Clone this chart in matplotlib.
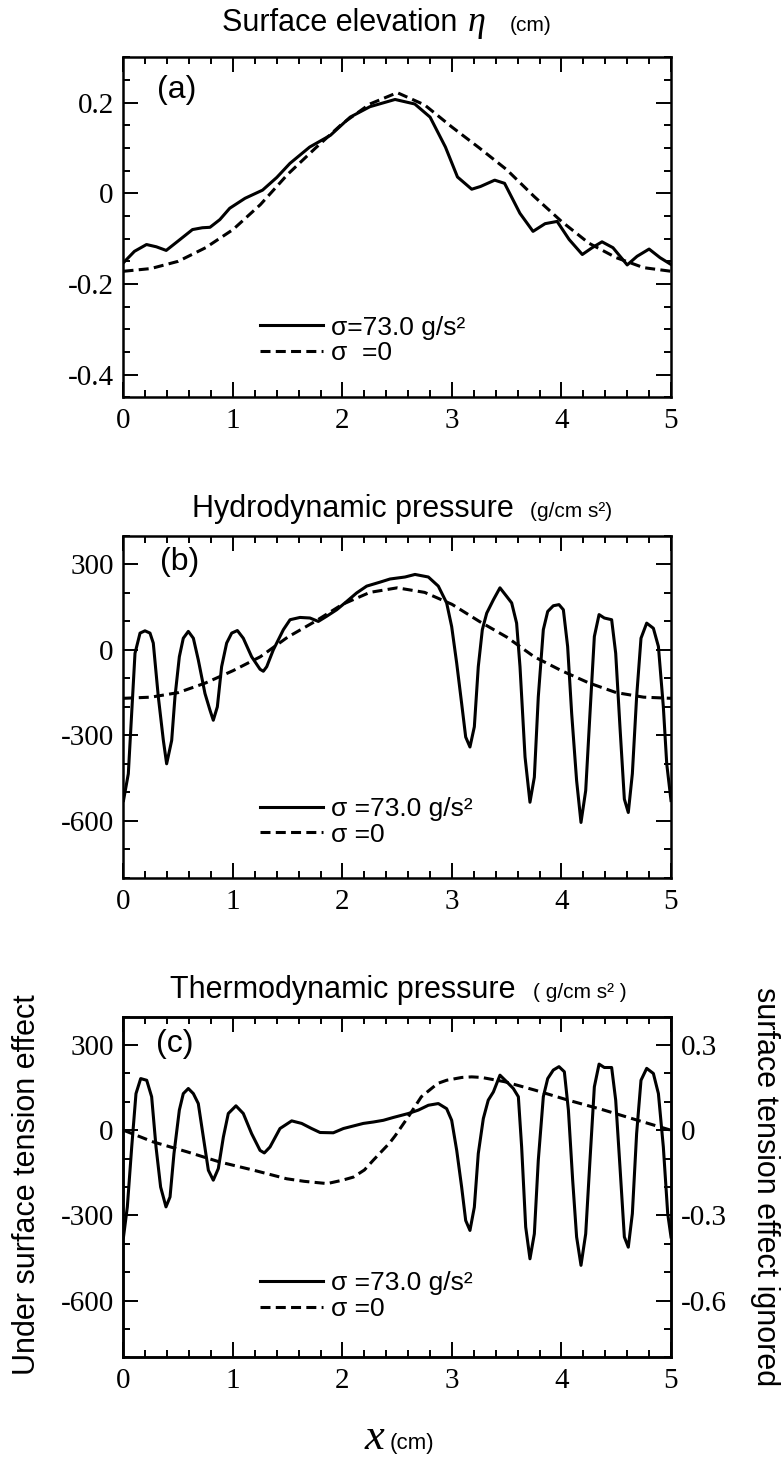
import matplotlib
matplotlib.use("Agg")
import matplotlib.pyplot as plt
from matplotlib.ticker import MultipleLocator, FuncFormatter

plt.rcParams["font.family"] = ["Liberation Sans", "DejaVu Sans"]
plt.rcParams["lines.scale_dashes"] = False

# ---- panel (a): surface elevation (cm)
xa_st = [0, 0.1, 0.21, 0.3, 0.39, 0.5, 0.63, 0.72, 0.79, 0.88, 0.97, 1.11, 1.27,
         1.4, 1.52, 1.7, 1.89, 2.07, 2.25, 2.48, 2.66, 2.8, 2.94, 3.05, 3.18, 3.26,
         3.39, 3.48, 3.62, 3.74, 3.85, 3.96, 4.07, 4.19, 4.28, 4.37, 4.47, 4.6,
         4.69, 4.8, 4.9, 5.0]
ya_st = [-0.153, -0.128, -0.113, -0.118, -0.126, -0.105, -0.080, -0.076, -0.075,
         -0.058, -0.033, -0.011, 0.007, 0.035, 0.066, 0.102, 0.128, 0.168, 0.191,
         0.207, 0.197, 0.168, 0.102, 0.036, 0.009, 0.015, 0.029, 0.022, -0.044,
         -0.084, -0.067, -0.062, -0.102, -0.135, -0.120, -0.107, -0.120, -0.158,
         -0.139, -0.123, -0.142, -0.157]
xa_0 = [0, 0.25, 0.5, 0.75, 1.0, 1.25, 1.5, 1.75, 2.0, 2.25, 2.5, 2.75, 3.0, 3.25,
        3.5, 3.75, 4.0, 4.25, 4.5, 4.75, 5.0]
ya_0 = [-0.172, -0.166, -0.150, -0.120, -0.080, -0.025, 0.042, 0.099, 0.154, 0.197,
        0.222, 0.195, 0.146, 0.100, 0.052, -0.007, -0.062, -0.110, -0.142, -0.164,
        -0.172]

# ---- panel (b): hydrodynamic pressure (g/cm s^2)
xb_st = [0, 0.044, 0.105, 0.151, 0.196, 0.242, 0.272, 0.318, 0.364, 0.394, 0.44,
         0.47, 0.51, 0.546, 0.592, 0.638, 0.683, 0.744, 0.79, 0.82, 0.857, 0.896,
         0.942, 0.988, 1.04, 1.094, 1.17, 1.247, 1.277, 1.308, 1.368, 1.46, 1.521,
         1.612, 1.703, 1.779, 1.855, 1.947, 2.038, 2.129, 2.221, 2.343, 2.434,
         2.571, 2.662, 2.784, 2.875, 2.951, 2.997, 3.043, 3.088, 3.125, 3.164,
         3.204, 3.24, 3.277, 3.317, 3.378, 3.438, 3.499, 3.545, 3.59, 3.621, 3.667,
         3.712, 3.752, 3.788, 3.834, 3.874, 3.925, 3.977, 4.017, 4.056, 4.093,
         4.138, 4.178, 4.221, 4.26, 4.3, 4.343, 4.391, 4.458, 4.495, 4.534, 4.574,
         4.61, 4.647, 4.686, 4.726, 4.778, 4.839, 4.885, 4.93, 4.961, 5.0]
yb_st = [-529, -435, -12, 59, 67, 59, 24, -165, -318, -400, -318, -165, -24, 41,
         65, 41, -35, -153, -212, -247, -200, -59, 24, 59, 68, 41, -24, -68, -75,
         -59, 0, 71, 106, 114, 112, 100, 118, 141, 170, 200, 224, 238, 249, 256,
         265, 256, 224, 165, 82, -47, -188, -306, -341, -270, -59, 71, 129, 176,
         218, 188, 165, 94, -59, -376, -535, -447, -165, 71, 135, 155, 159, 141, 12,
         -224, -459, -606, -494, -224, 47, 124, 112, 106, -12, -271, -524, -571,
         -435, -165, 41, 94, 76, 12, -200, -400, -529]
xb_0 = [0, 0.25, 0.5, 0.75, 1.0, 1.25, 1.5, 1.75, 2.0, 2.25, 2.5, 2.75, 3.0, 3.25,
        3.5, 3.75, 4.0, 4.25, 4.5, 4.75, 5.0]
yb_0 = [-170, -166, -150, -116, -73, -24, 45, 100, 160, 202, 218, 202, 160, 100,
        45, -24, -73, -116, -150, -166, -170]

# ---- panel (c): thermodynamic pressure (left: g/cm s^2, right: sigma = 0)
xc_st = [0, 0.035, 0.075, 0.114, 0.157, 0.212, 0.257, 0.297, 0.339, 0.388, 0.425,
         0.461, 0.51, 0.546, 0.592, 0.638, 0.683, 0.729, 0.775, 0.82, 0.866, 0.912,
         0.957, 1.027, 1.094, 1.17, 1.247, 1.286, 1.338, 1.429, 1.536, 1.627,
         1.718, 1.795, 1.916, 2.008, 2.099, 2.19, 2.282, 2.373, 2.464, 2.602,
         2.693, 2.784, 2.875, 2.951, 2.997, 3.043, 3.088, 3.125, 3.164, 3.204,
         3.24, 3.286, 3.331, 3.378, 3.438, 3.499, 3.56, 3.606, 3.636, 3.673, 3.712,
         3.752, 3.788, 3.834, 3.874, 3.925, 3.977, 4.026, 4.063, 4.102, 4.138,
         4.178, 4.221, 4.26, 4.3, 4.343, 4.391, 4.458, 4.495, 4.534, 4.574, 4.61,
         4.647, 4.686, 4.726, 4.778, 4.839, 4.885, 4.93, 4.97, 5.0]
yc_st = [-376, -270, -59, 129, 182, 176, 118, -59, -200, -270, -235, -82, 71, 129,
         147, 129, 94, -24, -141, -176, -135, -24, 59, 86, 59, -12, -71, -80, -59,
         6, 33, 24, 6, -8, -9, 6, 15, 24, 29, 35, 45, 59, 71, 88, 94, 76, 35, -71,
         -200, -318, -353, -271, -82, 41, 106, 135, 194, 171, 147, 118, -59, -341,
         -453, -365, -106, 118, 182, 212, 224, 206, 71, -176, -376, -476, -365,
         -106, 153, 233, 221, 221, 106, -129, -376, -412, -294, -12, 176, 218, 200,
         129, -59, -294, -376]
xc_0 = [0, 0.27, 0.58, 0.88, 1.19, 1.49, 1.65, 1.86, 2.0, 2.1, 2.2, 2.28, 2.43,
        2.48, 2.6, 2.72, 2.87, 2.95, 3.09, 3.18, 3.27, 3.48, 3.76, 4.06, 4.37, 4.67,
        5.0]
yc_0 = [0.0, -0.041, -0.076, -0.112, -0.141, -0.171, -0.180, -0.188, -0.176,
        -0.165, -0.140, -0.106, -0.045, -0.020, 0.047, 0.118, 0.165, 0.176, 0.186,
        0.188, 0.186, 0.171, 0.141, 0.106, 0.073, 0.038, 0.0]

LW = 2.2
DASH = [7.2, 3.8]
FIG_W, FIG_H = 784, 1461

fig = plt.figure(figsize=(FIG_W / 100, FIG_H / 100), dpi=100)


def px(x, y):
    return x / FIG_W, 1 - y / FIG_H


def fmt(v, pos):
    return "%g" % round(v, 6)


def style(ax, major, minor, right_ticks=True):
    ax.set_xlim(0, 5)
    ax.xaxis.set_major_locator(MultipleLocator(1))
    ax.xaxis.set_minor_locator(MultipleLocator(0.2))
    ax.yaxis.set_major_locator(MultipleLocator(major))
    ax.yaxis.set_minor_locator(MultipleLocator(minor))
    ax.xaxis.set_major_formatter(FuncFormatter(fmt))
    ax.yaxis.set_major_formatter(FuncFormatter(fmt))
    ax.tick_params(which="both", direction="in", top=True, right=right_ticks,
                   width=1.4)
    ax.tick_params(which="major", length=10.5)
    ax.tick_params(which="minor", length=5)
    ax.tick_params(axis="y", pad=7)
    ax.tick_params(axis="x", pad=8)
    for lab in ax.get_xticklabels() + ax.get_yticklabels():
        lab.set_fontfamily("Liberation Serif")
        lab.set_fontsize(21)
    for sp in ax.spines.values():
        sp.set_linewidth(1.8)


def legend(ax, handles, labels, top):
    ax.legend(handles, labels, loc="upper left", bbox_to_anchor=(0.249, top),
              frameon=False, fontsize=19, handlelength=2.4, handletextpad=0.3,
              labelspacing=0.05, borderpad=0, borderaxespad=0)


L = 123.5 / FIG_W
W = 547.5 / FIG_W

# (a)
ax1 = fig.add_axes([L, 1 - 397.3 / FIG_H, W, 340 / FIG_H])
s1, = ax1.plot(xa_st, ya_st, color="black", lw=LW)
d1, = ax1.plot(xa_0, ya_0, color="black", lw=LW, dashes=DASH)
ax1.set_ylim(-0.45, 0.3)
style(ax1, 0.2, 0.05)
legend(ax1, [s1, d1], ["σ=73.0 g/s²", "σ  =0"], 0.24)
ax1.text(0.062, 0.905, "(a)", transform=ax1.transAxes, fontsize=23, va="center")

# (b)
ax2 = fig.add_axes([L, 1 - 877.7 / FIG_H, W, 341.7 / FIG_H])
s2, = ax2.plot(xb_st, yb_st, color="black", lw=LW)
d2, = ax2.plot(xb_0, yb_0, color="black", lw=LW, dashes=DASH)
ax2.set_ylim(-800, 400)
style(ax2, 300, 100)
legend(ax2, [s2, d2], ["σ =73.0 g/s²", "σ =0"], 0.235)
ax2.text(0.066, 0.925, "(b)", transform=ax2.transAxes, fontsize=23, va="center")

# (c)
ax3 = fig.add_axes([L, 1 - 1357.3 / FIG_H, W, 340.6 / FIG_H])
s3, = ax3.plot(xc_st, yc_st, color="black", lw=LW)
ax3.set_ylim(-800, 400)
style(ax3, 300, 100, right_ticks=False)
ax3r = ax3.twinx()
d3, = ax3r.plot(xc_0, yc_0, color="black", lw=LW, dashes=DASH)
ax3r.set_ylim(-0.8, 0.4)
ax3r.yaxis.set_major_locator(MultipleLocator(0.3))
ax3r.yaxis.set_minor_locator(MultipleLocator(0.1))
ax3r.yaxis.set_major_formatter(FuncFormatter(fmt))
ax3r.tick_params(which="both", direction="in", width=1.4, pad=7)
ax3r.tick_params(which="major", length=10.5)
ax3r.tick_params(which="minor", length=5)
for lab in ax3r.get_yticklabels():
    lab.set_fontfamily("Liberation Serif")
    lab.set_fontsize(21)
for sp in ax3r.spines.values():
    sp.set_linewidth(1.8)
legend(ax3, [s3, d3], ["σ =73.0 g/s²", "σ =0"], 0.252)
ax3.text(0.06, 0.92, "(c)", transform=ax3.transAxes, fontsize=23, va="center")

# titles
fig.text(*px(221.7, 31), "Surface elevation", fontsize=22, va="baseline")
fig.text(*px(468, 31), "η", fontsize=26, va="baseline", style="italic",
         fontfamily="Liberation Serif")
fig.text(*px(510, 31), "(cm)", fontsize=15, va="baseline")

fig.text(*px(192, 516.7), "Hydrodynamic pressure", fontsize=22, va="baseline")
fig.text(*px(530, 516.7), "(g/cm s²)", fontsize=15, va="baseline")

fig.text(*px(170, 998.3), "Thermodynamic pressure", fontsize=22, va="baseline")
fig.text(*px(533, 998.3), "( g/cm s² )", fontsize=15, va="baseline")

# side labels and x label
fig.text(*px(27, 1185), "Under surface tension effect", fontsize=22,
         rotation=90, ha="center", va="center")
fig.text(*px(765, 1187), "surface tension effect ignored", fontsize=22,
         rotation=-90, ha="center", va="center")
fig.text(*px(374, 1449), "x", fontsize=32, style="italic", ha="center",
         va="baseline", fontfamily="Liberation Serif")
fig.text(*px(390, 1449), "(cm)", fontsize=16, va="baseline")

fig.savefig("out.png", dpi=100)
